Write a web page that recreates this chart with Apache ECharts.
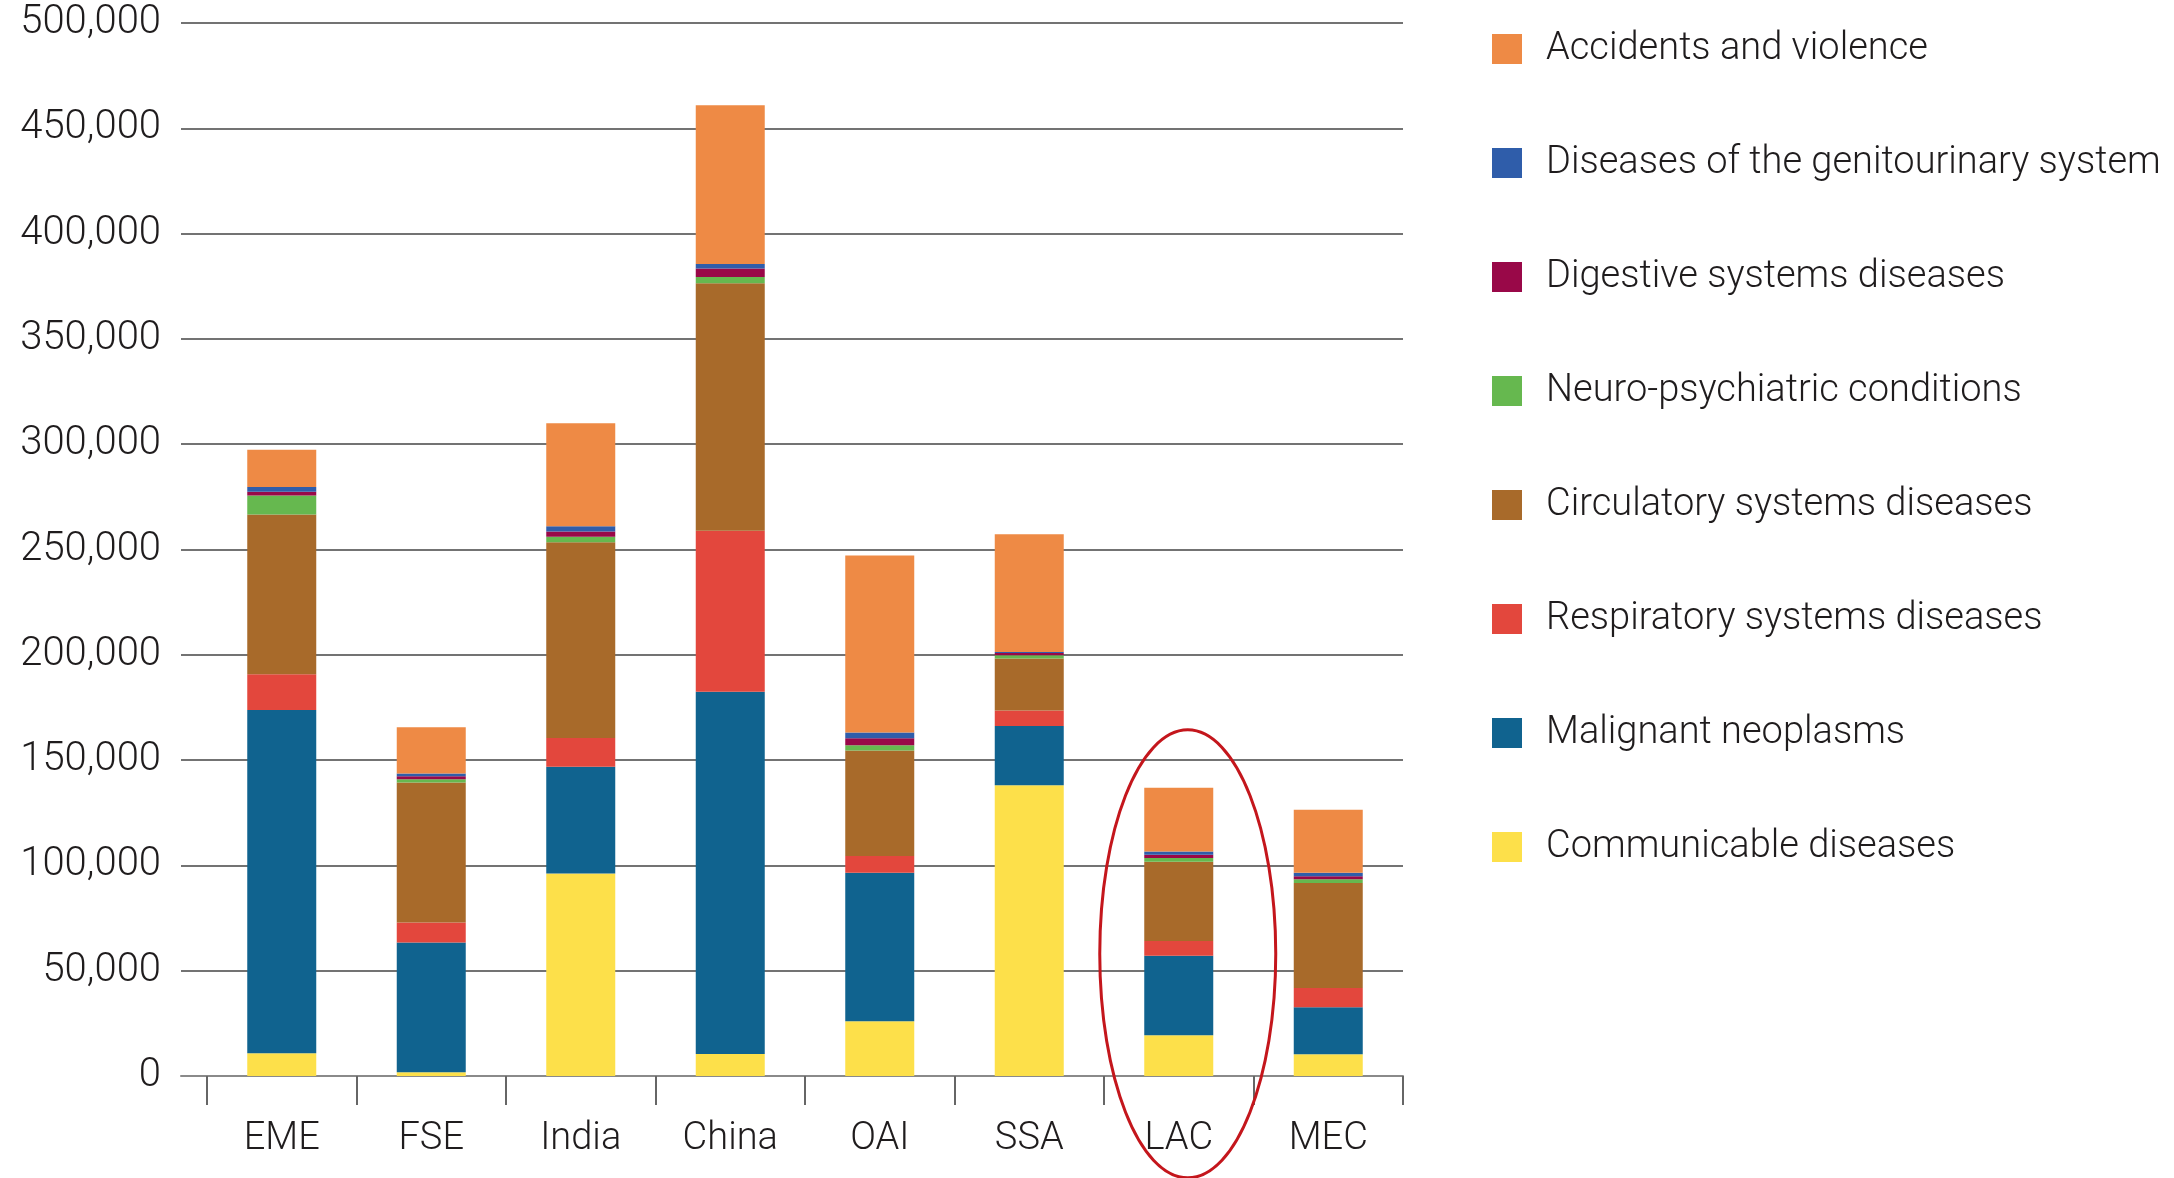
<!DOCTYPE html>
<html>
<head>
<meta charset="utf-8">
<script src="https://cdn.jsdelivr.net/npm/echarts@6/dist/echarts.min.js"></script>
<style>
html,body{margin:0;padding:0;background:#fff;}
#chart{width:2174px;height:1178px;}
</style>
</head>
<body>
<div id="chart"></div>
<script>
// ---- data ----
const categories = ['EME', 'FSE', 'India', 'China', 'OAI', 'SSA', 'LAC', 'MEC'];
const yTicks = { min: 0, max: 500000, interval: 50000 };

const communicable   = [10800, 1800, 96200, 10500, 26000, 138000, 19300, 10300];
const malignant      = [163000, 61600, 50600, 171900, 70500, 28200, 37800, 22300];
const respiratory    = [17000, 9500, 13700, 76500, 8000, 7400, 7000, 9200];
const circulatory    = [75800, 66500, 93000, 117500, 50000, 24600, 37600, 49800];
const neuro          = [9100, 1500, 2500, 3000, 2600, 1600, 1800, 1800];
const digestive      = [1700, 1400, 2600, 4000, 3300, 1000, 1600, 1500];
const genitourinary  = [2300, 1300, 2400, 2200, 2700, 500, 1500, 1600];
const accidents      = [17700, 22000, 49000, 75400, 84000, 56000, 30300, 29900];

const seriesNames = [
  'Communicable diseases',
  'Malignant neoplasms',
  'Respiratory systems diseases',
  'Circulatory systems diseases',
  'Neuro-psychiatric conditions',
  'Digestive systems diseases',
  'Diseases of the genitourinary system',
  'Accidents and violence'
];
const seriesValues = [communicable, malignant, respiratory, circulatory, neuro, digestive, genitourinary, accidents];
const seriesColors = ['#FDE04A', '#10638F', '#E3473D', '#A86A2A', '#66B84F', '#990848', '#2F5DAA', '#EE8A45'];
const highlighted = 'LAC';
const highlightCenterValue = 58000;

// ---- chart ----
const FONT = 'Roboto, "Liberation Sans", sans-serif';
const TEXT = '#1f1c1d';
const chart = echarts.init(document.getElementById('chart'), null, { renderer: 'canvas' });

const series = seriesNames.map((name, i) => ({
  name: name,
  type: 'bar',
  stack: 'total',
  xAxisIndex: 1,
  yAxisIndex: 1,
  barWidth: 69,
  itemStyle: { color: seriesColors[i] },
  data: seriesValues[i]
}));

const option = {
  animation: false,
  backgroundColor: '#ffffff',
  textStyle: { fontFamily: FONT },
  grid: [
    { left: 181, right: 771, top: 23, bottom: 102 },
    { left: 207, right: 771, top: 23, bottom: 102 }
  ],
  xAxis: [
    {
      gridIndex: 0, type: 'value', min: 0, max: 1,
      axisLine: { show: true, onZero: false, lineStyle: { color: '#8a8a8a', width: 2 } },
      axisTick: { show: false }, axisLabel: { show: false }, splitLine: { show: false }
    },
    {
      gridIndex: 1, type: 'category', data: categories,
      axisLine: { show: false },
      axisTick: { show: true, length: 29, lineStyle: { color: '#666', width: 2 } },
      axisLabel: { fontSize: 38, fontWeight: 300, fontFamily: FONT, color: TEXT, margin: 44 },
      splitLine: { show: false }
    }
  ],
  yAxis: [
    {
      gridIndex: 0, type: 'value', min: yTicks.min, max: yTicks.max, interval: yTicks.interval,
      axisLine: { show: false }, axisTick: { show: false },
      axisLabel: {
        fontSize: 40, fontWeight: 300, fontFamily: FONT, color: TEXT, margin: 20,
        formatter: v => v.toLocaleString('en-US')
      },
      splitLine: { show: true, lineStyle: { color: '#444', width: 1.5 } }
    },
    {
      gridIndex: 1, type: 'value', min: yTicks.min, max: yTicks.max, interval: yTicks.interval,
      show: false, splitLine: { show: false }
    }
  ],
  legend: {
    orient: 'vertical',
    left: 1487, top: 25,
    itemWidth: 30, itemHeight: 30, itemGap: 76,
    icon: 'rect',
    data: seriesNames.slice().reverse(),
    textStyle: { fontSize: 38, fontWeight: 300, fontFamily: FONT, color: TEXT, lineHeight: 38, padding: [0, 0, 0, 19] },
    selectedMode: false
  },
  series: series
};
chart.setOption(option);

// highlight ellipse around the LAC bar, positioned via the axes
const c = chart.convertToPixel({ xAxisIndex: 1, yAxisIndex: 1 }, [highlighted, highlightCenterValue]);
chart.setOption({
  graphic: [{
    type: 'ellipse',
    shape: { cx: c[0] + 9, cy: c[1], rx: 88, ry: 224 },
    style: { fill: 'none', stroke: '#C4161C', lineWidth: 3 },
    z: 100
  }]
});
</script>
</body>
</html>
